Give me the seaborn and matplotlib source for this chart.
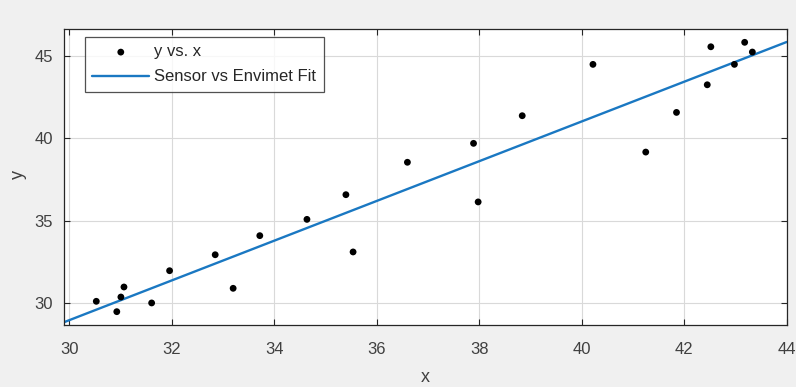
import numpy as np
import pandas as pd
import matplotlib
matplotlib.use("Agg")
import matplotlib.pyplot as plt
import seaborn as sns

# Data
x_vals = [30.53, 30.93, 31.01, 31.07, 31.61, 31.96, 32.85, 33.20, 33.72, 34.64,
          35.40, 35.54, 36.60, 37.89, 37.98, 38.84, 40.22, 41.25, 41.85, 42.45,
          42.52, 42.98, 43.18, 43.33]
y_vals = [30.10, 29.47, 30.36, 30.97, 30.00, 31.96, 32.93, 30.89, 34.09, 35.08,
          36.58, 33.10, 38.55, 39.70, 36.14, 41.38, 44.50, 39.17, 41.58, 43.26,
          45.57, 44.50, 45.84, 45.25]
fit_slope = 1.208
fit_intercept = -7.29
x_limits = [29.9, 44.0]
y_limits = [28.66, 46.65]
x_ticks = [30, 32, 34, 36, 38, 40, 42, 44]
y_ticks = [30, 35, 40, 45]

sns.set_theme(style="white")
plt.rcParams['font.family'] = ['Liberation Sans', 'DejaVu Sans']

fig = plt.figure(figsize=(7.96, 3.87), dpi=100)
fig.patch.set_facecolor('#f0f0f0')
ax = fig.add_axes([64/796, 1-325/387, (786.7-64)/796, (325-29)/387])
ax.set_facecolor('white')

df = pd.DataFrame({'x': x_vals, 'y': y_vals})
fit_x = np.array(x_limits)
fit_df = pd.DataFrame({'x': fit_x, 'y': fit_slope * fit_x + fit_intercept})

sns.lineplot(data=fit_df, x='x', y='y', ax=ax, color='#1a78c2', linewidth=1.7,
             label='Sensor vs Envimet Fit', zorder=2)
sns.scatterplot(data=df, x='x', y='y', ax=ax, color='black', s=24, edgecolor='none',
                label='y vs. x', zorder=3)

ax.set_xlim(*x_limits)
ax.set_ylim(*y_limits)
ax.set_xticks(x_ticks)
ax.set_yticks(y_ticks)
ax.grid(True, color='#d9d9d9', linewidth=0.8)
ax.set_axisbelow(True)

dark = '#262626'
for s in ax.spines.values():
    s.set_visible(True)
    s.set_color(dark)
    s.set_linewidth(0.9)
ax.tick_params(axis='x', pad=12)
ax.tick_params(axis='y', pad=8)
ax.tick_params(axis='both', which='both', direction='in', length=4, width=0.8,
               color=dark, top=True, right=True, bottom=True, left=True,
               labelsize=12, labelcolor='#404040')
ax.set_xlabel('x', fontsize=13, color='#404040')
ax.set_ylabel('y', fontsize=13, color='#404040')
ax.xaxis.label.set_va('center')
ax.yaxis.label.set_va('center')
ax.xaxis.set_label_coords(0.4995, -0.176)
ax.yaxis.set_label_coords(-0.0637, 0.507)

handles, labels = ax.get_legend_handles_labels()
order = [labels.index('y vs. x'), labels.index('Sensor vs Envimet Fit')]
leg = ax.legend([handles[i] for i in order], [labels[i] for i in order],
                loc='upper left', bbox_to_anchor=(0.029, 0.973), fontsize=12,
                frameon=True, fancybox=False, handlelength=3.4, handletextpad=0.3,
                borderpad=0.45, labelspacing=0.6, borderaxespad=0)
leg.get_frame().set_edgecolor(dark)
leg.get_frame().set_linewidth(0.9)
for t in leg.get_texts():
    t.set_color(dark)

fig.savefig('out.png', dpi=100, facecolor=fig.get_facecolor())
